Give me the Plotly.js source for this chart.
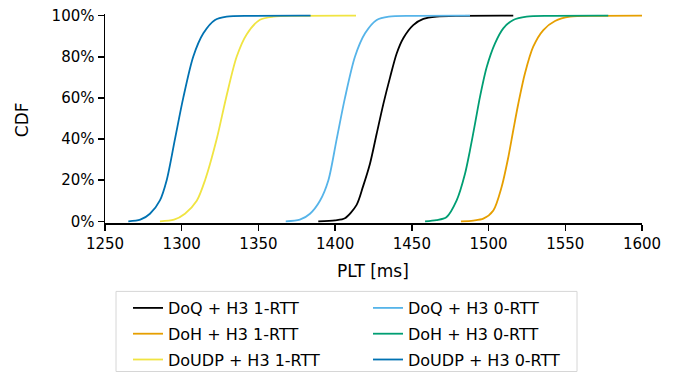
<!DOCTYPE html>
<html>
<head>
<meta charset="utf-8">
<script src="https://cdn.plot.ly/plotly-3.0.1.min.js"></script>
<style>html,body{margin:0;padding:0;background:#fff;}#chart{width:678px;height:375px;}</style>
</head>
<body>
<div id="chart"></div>
<script>
// PLT values (ms) and CDF values (%)
const doq1_x = [1389.0, 1400.0, 1406.4, 1414.0, 1418.2, 1422.7, 1427.1, 1431.4, 1435.8, 1440.1, 1444.4, 1450.9, 1457.5, 1466.2, 1480.0, 1516.1];
const doq1_y = [0, 0.5, 1.5, 8, 17, 28, 42.7, 57, 70, 81.6, 89, 95.4, 98.4, 99.5, 99.9, 100];

const doh1_x = [1482.0, 1490.0, 1496.6, 1503.1, 1508.5, 1512.9, 1516.1, 1519.4, 1523.7, 1529.1, 1535.7, 1543.3, 1553.1, 1570.0, 1600.0];
const doh1_y = [0, 0.4, 1.3, 5.3, 16.7, 31.3, 44.3, 57.3, 71.9, 84.9, 93, 97.4, 99.5, 99.9, 100];

const doudp1_x = [1285.8, 1295.0, 1302.1, 1309.8, 1315.2, 1322.8, 1328.9, 1335.8, 1342.4, 1351.0, 1359.7, 1375.0, 1413.6];
const doudp1_y = [0, 0.8, 3.7, 10, 20, 40, 60, 80, 91, 98, 99.5, 99.9, 100];

const doq0_x = [1367.8, 1377.0, 1383.6, 1390.1, 1395.6, 1401.0, 1406.4, 1412.9, 1419.5, 1427.1, 1435.0, 1450.0, 1487.9];
const doq0_y = [0, 0.8, 3.7, 10, 20, 40, 60, 80, 91.4, 97.9, 99.5, 99.9, 100];

const doh0_x = [1458.6, 1466.0, 1472.5, 1479.2, 1484.6, 1487.9, 1491.2, 1494.4, 1498.8, 1504.2, 1509.6, 1516.1, 1524.8, 1540.0, 1578.0];
const doh0_y = [0, 0.6, 2, 10.2, 23, 34.6, 47.6, 60.5, 75, 86.5, 93.8, 97.9, 99.5, 99.9, 100];

const doudp0_x = [1265.2, 1273.0, 1279.3, 1285.8, 1290.2, 1295.6, 1301.0, 1307.5, 1314.1, 1321.7, 1329.3, 1345.0, 1384.0];
const doudp0_y = [0, 0.8, 3.7, 10.2, 20, 40, 60, 80, 91.4, 97.9, 99.5, 99.9, 100];

const names = ['DoQ + H3 1-RTT', 'DoH + H3 1-RTT', 'DoUDP + H3 1-RTT', 'DoQ + H3 0-RTT', 'DoH + H3 0-RTT', 'DoUDP + H3 0-RTT'];
const colors = ['#000000', '#E69F00', '#F0E442', '#56B4E9', '#009E73', '#0072B2'];
const xs = [doq1_x, doh1_x, doudp1_x, doq0_x, doh0_x, doudp0_x];
const ys = [doq1_y, doh1_y, doudp1_y, doq0_y, doh0_y, doudp0_y];

const xTicks = [1250, 1300, 1350, 1400, 1450, 1500, 1550, 1600];
const yTicks = [0, 20, 40, 60, 80, 100];
const yTickText = ['0%', '20%', '40%', '60%', '80%', '100%'];
const xTitle = 'PLT [ms]';
const yTitle = 'CDF';

const traces = names.map((n, i) => ({
  type: 'scatter', mode: 'lines', name: n,
  x: xs[i], y: ys[i],
  line: {color: colors[i], width: 1.8, shape: 'spline', smoothing: 0.8},
  legend: i < 3 ? 'legend' : 'legend2',
  legendgroup: 'g' + i,
  legendrank: i + 1
}));

const tickFont = {family: 'DejaVu Sans', size: 15, color: '#000'};
const titleFont = {family: 'DejaVu Sans', size: 17, color: '#000'};
const legFont = {family: 'DejaVu Sans', size: 16, color: '#000'};
const legBase = {
  orientation: 'v', xref: 'container', yref: 'container',
  xanchor: 'left', yanchor: 'top', y: 1 - 291 / 375,
  borderwidth: 0, bgcolor: 'rgba(0,0,0,0)', font: legFont, tracegroupgap: 2
};
const plotH = 375 - 14 - 152.3;
const toPaperY = py => (375 - 152.3 - py) / plotH;
const toPaperX = px => (px - 105) / 537;

const layout = {
  width: 678, height: 375,
  margin: {l: 105, r: 36, t: 14, b: 152.3, autoexpand: false},
  paper_bgcolor: '#fff', plot_bgcolor: '#fff',
  font: tickFont,
  showlegend: true,
  xaxis: {
    range: [1250, 1600], tickvals: xTicks, ticktext: xTicks.map(String),
    showgrid: false, zeroline: false, showline: true, linecolor: '#000', linewidth: 1.5,
    ticks: 'outside', ticklen: 6, tickwidth: 1.5, tickcolor: '#000', tickfont: tickFont,
    automargin: false
  },
  yaxis: {
    range: [-0.8, 100.8], tickvals: yTicks, ticktext: yTickText,
    showgrid: false, zeroline: false, showline: true, linecolor: '#000', linewidth: 1.5,
    ticks: 'outside', ticklen: 6, tickwidth: 1.5, tickcolor: '#000', tickfont: tickFont,
    automargin: false
  },
  annotations: [
    {text: xTitle, xref: 'paper', yref: 'paper', x: toPaperX(373), y: toPaperY(271),
     xanchor: 'center', yanchor: 'middle', showarrow: false, font: titleFont},
    {text: yTitle, xref: 'paper', yref: 'paper', x: toPaperX(22), y: toPaperY(120),
     xanchor: 'center', yanchor: 'middle', showarrow: false, textangle: -90, font: titleFont}
  ],
  legend: Object.assign({}, legBase, {x: 128 / 678}),
  legend2: Object.assign({}, legBase, {x: 368 / 678}),
  shapes: [{
    type: 'rect', xref: 'paper', yref: 'paper',
    x0: toPaperX(116), x1: toPaperX(577), y0: toPaperY(291), y1: toPaperY(371),
    line: {color: '#d6d6d6', width: 1}, fillcolor: 'rgba(0,0,0,0)', layer: 'below'
  }]
};
Plotly.newPlot('chart', traces, layout, {displayModeBar: false, staticPlot: true});
</script>
</body>
</html>
